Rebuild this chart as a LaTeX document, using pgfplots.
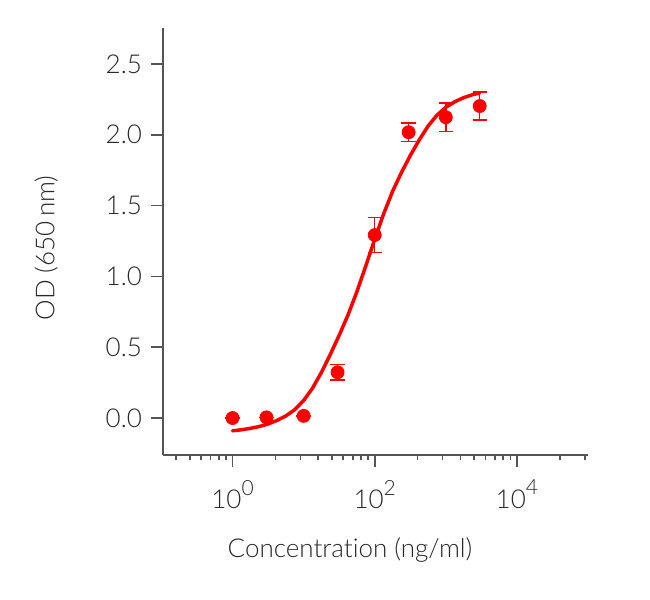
\documentclass[border=0pt]{standalone}
\usepackage{pgfplots}
\pgfplotsset{compat=1.18}
\usepackage{fontspec}
\setmainfont{Lato}[UprightFont=* Light, Ligatures=NoCommon]
\definecolor{axgray}{RGB}{85,85,85}
\definecolor{txtgray}{RGB}{40,40,40}
\definecolor{fitred}{RGB}{250,0,0}
\newcommand{\tenpow}[1]{10\raisebox{0.52em}{\fontsize{10.5pt}{12pt}\selectfont #1}}
\begin{document}
\fontsize{13pt}{15pt}\selectfont
\begin{tikzpicture}
\path[use as bounding box] (-81.5pt,-72.5pt) rectangle (243.5pt,227.5pt);
\begin{axis}[
  at={(0,0)}, anchor=south west,
  scale only axis, width=212.5pt, height=213.5pt,
  xmode=log, xmin=0.105, xmax=1e5,
  ymin=-0.261, ymax=2.754,
  axis x line*=bottom, axis y line*=left,
  axis line style={-, draw=axgray, line width=0.9pt},
  tick align=outside,
  major tick length=6pt, minor tick length=2.6pt,
  every tick/.style={draw=axgray, line width=0.8pt},
  xtick={1,100,10000},
  xticklabels={\tenpow{0},\tenpow{2},\tenpow{4}},
  xticklabel style={yshift=-2pt},
  minor xtick={0.16,0.25,0.36,0.49,0.64,0.81,4,9,16,25,36,49,64,81,400,900,1600,2500,3600,4900,6400,8100,40000,90000},
  ytick={0,0.5,1,1.5,2,2.5},
  minor ytick={},
  yticklabel style={/pgf/number format/.cd, fixed, fixed zerofill, precision=1},
  /pgf/number format/assume math mode=true,
  tick label style={font=\fontsize{13pt}{15pt}\selectfont, text=txtgray},
  xlabel={Concentration (ng/ml)},
  ylabel={OD (650\,nm)},
  label style={font=\fontsize{13pt}{15pt}\selectfont, text=txtgray},
  xlabel style={at={(rel axis cs:0.44,-0.239)}, anchor=base},
  ylabel style={at={(rel axis cs:-0.275,0.485)}, anchor=center, rotate=0},
  clip=false,
]
\addplot[fitred, line width=1.75pt, no marks, line join=round, line cap=round] coordinates {
  (1,-0.090) (1.334,-0.083) (1.778,-0.073) (2.371,-0.060) (3.162,-0.042)
  (4.217,-0.017) (5.623,0.015) (7.499,0.059) (10,0.124) (13.34,0.211)
  (17.78,0.322) (23.71,0.449) (31.62,0.584) (42.17,0.729) (56.23,0.893)
  (74.99,1.075) (100,1.263) (133.4,1.441) (177.8,1.599) (237.1,1.733)
  (316.2,1.853) (421.7,1.963) (562.3,2.061) (749.9,2.138) (1000,2.194)
  (1334,2.233) (1778,2.262) (2371,2.283) (3000,2.295)
};
\addplot[fitred, only marks, mark=*, mark size=3.25pt,
  mark options={fill=fitred, draw=fitred},
  error bars/.cd, y dir=both, y explicit,
  error bar style={fitred, line width=0.75pt},
  error mark options={fitred, line width=0.75pt, mark size=3.6pt, rotate=90}]
  table[x=x, y=y, y error=e] {
x y e
1 0.000 0
3 0.005 0
10 0.015 0
30 0.323 0.056
100 1.292 0.124
300 2.018 0.064
1000 2.124 0.102
3000 2.203 0.098
};
\end{axis}
\end{tikzpicture}
\end{document}
